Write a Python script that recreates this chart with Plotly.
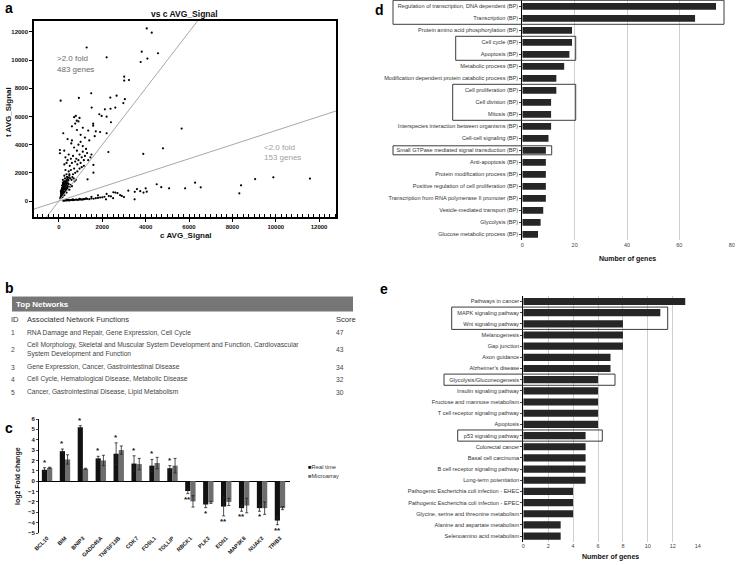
import plotly.graph_objects as go

W, H = 736, 565
FONT = "Arial, Liberation Sans, sans-serif"


def px(x):
    # pixel column -> paper fraction
    return x / W


def py(y):
    # pixel row -> paper fraction
    return 1 - y / H


# ---- panel a: scatter of c vs t signal ----
c_signal = [4050, 4280, 1280, 2200, 3820, 4080, 4570, 3770, 3010, 3010, 3230, 1490, 2660, 2370, 80, 920,
            3040, 2970, 1510, 2120, 2380, 2600, 1860, 1970, 2200, 2400, 700, 780, 820, 900, 950, 1580,
            1580, 5660, 200, 830, 2200, 1700, 1900, 1100, 1350, 600, 750, 1000, 1200, 1400, 1650, 45,
            45, 245, 570, 830, 2280, 3890, 4800, 1590, 1590, 1320,
            300, 350, 400, 450, 500, 550, 600, 650, 700, 750, 800, 850, 900, 950, 1000, 1050, 1100, 1150,
            1200, 1250, 1300, 700, 900, 1000, 1100, 600, 400, 300, 250, 350, 450, 550, 650, 750, 850, 950,
            1050, 1150, 1350, 1450, 1500, 250, 180, 220, 280, 320, 380, 420, 480, 520, 580, 620, 680, 720,
            780, 150, 200, 250, 300, 350, 400, 450, 500, 550, 600, 120, 170, 230, 280, 330, 380, 430, 480,
            100, 150, 200, 250, 300, 350, 100, 150, 200, 250, 80, 130, 180, 60, 110, 160, 90, 140, 190, 240,
            100, 120, 140, 160, 180, 200, 220, 240, 260, 280, 300, 320, 340, 360, 380, 400, 420, 440, 460, 480,
            110, 130, 150, 170, 190, 210, 230, 250, 270, 290, 310, 330, 350, 370, 390,
            200, 300, 400, 500, 600, 700, 800, 900, 1000, 1100, 1200, 1300, 1400, 1500, 1600, 1700, 1800,
            1900, 2000, 2100, 2170, 2300, 2400, 2510, 2600, 2700, 2820, 2900, 3000, 3200, 3490, 3500, 3600,
            3750, 3900, 4000, 4050, 4510, 4720, 5080, 5820, 6280, 6540, 8320, 8400, 9050, 9890, 11580,
            1800, 1500, 2200, 2500, 350, 450, 650, 950, 1250,
            250, 350, 450, 550, 650, 750, 850, 950, 1050, 1150]
t_signal = [12250, 11950, 10900, 10200, 10600, 10110, 10490, 9870, 8830, 8550, 8590, 7650, 7480, 7340, 7120, 7320,
            7230, 6950, 6630, 6510, 6550, 6630, 6160, 6040, 5990, 5590, 5950, 6050, 5700, 5650, 5900, 5490,
            5350, 5140, 4810, 5040, 4810, 4950, 4900, 5200, 5000, 5300, 5500, 4700, 4500, 4300, 4600, 3620,
            3390, 3570, 4090, 3570, 3480, 3340, 3740, 2560, 2010, 1540,
            3100, 2700, 2900, 3300, 2500, 3000, 2700, 3200, 2300, 2800, 3000, 2600, 2900, 3300, 2700, 3100, 3500, 2900,
            3200, 3700, 3400, 3800, 4000, 4200, 3900, 4300, 4400, 2200, 2600, 1900, 2100, 2200, 1900, 2000, 2100, 2300,
            2400, 2500, 2900, 3100, 3300, 1800, 1500, 1300, 1600, 1400, 1700, 1500, 1800, 1600, 1500, 1700, 1600, 1400,
            1500, 1100, 1000, 1200, 1100, 1250, 1050, 1200, 1000, 1150, 1050, 800, 900, 850, 950, 800, 900, 850, 800,
            600, 650, 700, 600, 650, 600, 400, 450, 500, 420, 300, 330, 380, 200, 250, 280, 700, 900, 1200, 1400,
            500, 700, 900, 1100, 1300, 600, 800, 1000, 1200, 1400, 900, 1100, 1300, 1500, 1700, 1000, 1250, 1450, 1650, 1900,
            350, 550, 750, 950, 1150, 450, 650, 850, 1050, 1250, 750, 950, 1150, 1350, 1550,
            20, 40, 60, 50, 80, 70, 100, 90, 120, 110, 140, 150, 130, 180, 160, 200, 220,
            250, 260, 300, 120, 350, 330, 620, 600, 560, 420, 360, 280, 730, 120, 650, 850,
            700, 600, 900, 660, 1190, 980, 900, 900, 1300, 970, 545, 1115, 1560, 1680, 1590,
            400, 300, 500, 200, 60, 80, 110, 150, 180,
            30, 50, 40, 70, 60, 90, 80, 110, 100, 130]
fold_ratios = [2.0, 0.5]

# ---- panel b: top networks table ----
net_ids = ["1", "2", "3", "4", "5"]
net_functions = [
    "RNA Damage and Repair, Gene Expression, Cell Cycle",
    "Cell Morphology, Skeletal and Muscular System Development and Function, Cardiovascular<br>System Development and Function",
    "Gene Expression, Cancer, Gastrointestinal Disease",
    "Cell Cycle, Hematological Disease, Metabolic Disease",
    "Cancer, Gastrointestinal Disease, Lipid Metabolism",
]
net_scores = [47, 43, 34, 32, 30]

# ---- panel c: real time vs microarray ----
genes = ["BCL10", "BIM", "BNIP3", "GADD45A", "TNFSF13B", "CDK7", "FOSL1", "TOLLIP",
         "RBCK1", "PLK2", "EDN1", "MAP3K8", "NUAK2", "TRIB3"]
realtime = [1.1, 2.9, 5.2, 2.2, 2.65, 1.7, 1.5, 1.25, -0.95, -2.25, -2.45, -2.6, -2.6, -3.8]
realtime_err = [0.2, 0.2, 0.15, 0.2, 1.05, 0.75, 0.6, 0.25, 0.25, 0.3, 0.9, 0.3, 0.3, 0.4]
microarray = [1.3, 2.1, 1.2, 2.0, 3.0, 1.65, 1.75, 1.5, -1.95, -2.05, -2.0, -2.35, -2.6, -2.6]
microarray_err = [0.05, 0.45, 0.05, 0.5, 0.4, 0.55, 0.55, 0.7, 0.55, 0.1, 0.35, 0.7, 0.6, 0.15]
stars = ["*", "*", "*", "*", "*", "*", "*", "*", "**", "*", "**", "**", "*", "**"]
series_names = ["Real time", "Microarray"]
series_colors = ["#111111", "#6e6e6e"]

# ---- panel d: GO terms ----
go_terms = [
    "Regulation of transcription, DNA dependent (BP)", "Transcription (BP)",
    "Protein amino acid phosphorylation (BP)", "Cell cycle (BP)", "Apoptosis (BP)",
    "Metabolic process (BP)", "Modification dependent protein catabolic process (BP)",
    "Cell proliferation (BP)", "Cell division (BP)", "Mitosis (BP)",
    "Interspecies interaction between organisms (BP)", "Cell-cell signaling (BP)",
    "Small GTPase mediated signal transduction (BP)", "Anti-apoptosis (BP)",
    "Protein modification process (BP)", "Positive regulation of cell proliferation (BP)",
    "Transcription from RNA polymerase II promoter (BP)", "Vesicle-mediated transport (BP)",
    "Glycolysis (BP)", "Glucose metabolic process (BP)",
]
go_counts = [74, 66, 19, 19, 18, 16, 13, 13, 11, 11, 11, 10, 9, 9, 9, 9, 9, 8, 7, 6]

# ---- panel e: KEGG pathways ----
kegg = [
    "Pathways in cancer", "MAPK signaling pathway", "Wnt signaling pathway", "Melanogenesis",
    "Gap junction", "Axon guidance", "Alzheimer's disease", "Glycolysis/Gluconeogenesis",
    "Insulin signaling pathway", "Fructose and mannose metabolism", "T cell receptor signaling pathway",
    "Apoptosis", "p53 signaling pathway", "Colorectal cancer", "Basal cell carcinoma",
    "B cell receptor signaling pathway", "Long-term potentiation",
    "Pathogenic Escherichia coli infection - EHEC", "Pathogenic Escherichia coli infection - EPEC",
    "Glycine, serine and threonine metabolism", "Alanine and aspartate metabolism",
    "Selenoamino acid metabolism",
]
kegg_counts = [13, 11, 8, 8, 8, 7, 7, 6, 6, 6, 6, 6, 5, 5, 5, 5, 5, 4, 4, 4, 3, 3]

fig = go.Figure()

# panel a
fig.add_trace(go.Scatter(x=c_signal, y=t_signal, mode="markers", xaxis="x", yaxis="y",
                         marker=dict(size=2.2, color="black"), showlegend=False))
for r in fold_ratios:
    fig.add_trace(go.Scatter(x=[-2000, 14000], y=[-2000 * r, 14000 * r], mode="lines",
                             xaxis="x", yaxis="y", line=dict(color="#a8a8a8", width=1),
                             showlegend=False, hoverinfo="skip"))

# panel c
for name, vals, errs, col in zip(series_names, [realtime, microarray], [realtime_err, microarray_err],
                                 series_colors):
    fig.add_trace(go.Bar(x=genes, y=vals, name=name, xaxis="x2", yaxis="y2", showlegend=False,
                         marker=dict(color=col),
                         error_y=dict(type="data", array=errs, color="#222", thickness=0.8, width=1.5)))

# panel d
fig.add_trace(go.Bar(x=go_counts, y=go_terms, orientation="h", xaxis="x3", yaxis="y3", width=0.56,
                     marker=dict(color="#262626"), showlegend=False))
# panel e
fig.add_trace(go.Bar(x=kegg_counts, y=kegg, orientation="h", xaxis="x4", yaxis="y4", width=0.64,
                     marker=dict(color="#262626"), showlegend=False))

fig.update_layout(
    width=W, height=H, template="none",
    margin=dict(l=0, r=0, t=0, b=0),
    paper_bgcolor="white", plot_bgcolor="white",
    font=dict(family=FONT, color="#222"),
    barmode="group", bargap=0.42, bargroupgap=0,
    showlegend=False,
    xaxis=dict(domain=[px(34), px(336)], anchor="y", range=[-1150, 12780],
               tickvals=[0, 2000, 4000, 6000, 8000, 10000, 12000], tickformat="d",
               tickfont=dict(family=FONT, size=6, color="#111", weight="bold"),
               showline=True, linecolor="black", linewidth=1.5, mirror=True,
               ticks="outside", ticklen=3, tickcolor="black",
               minor=dict(dtick=250, ticks="inside", ticklen=3, tickcolor="black"),
               showgrid=False, zeroline=False, automargin=False),
    yaxis=dict(domain=[py(217), py(21)], anchor="x", range=[-1136, 12780],
               tickvals=[0, 2000, 4000, 6000, 8000, 10000, 12000], tickformat="d",
               tickfont=dict(family=FONT, size=6, color="#111", weight="bold"),
               showline=True, linecolor="black", linewidth=1.5, mirror=True,
               ticks="outside", ticklen=3, tickcolor="black",
               showgrid=False, zeroline=False, automargin=False),
    xaxis2=dict(domain=[px(39), px(290)], anchor="y2", range=[-0.45, 13.56],
                tickangle=-45, tickfont=dict(family=FONT, size=5.5, color="#111", weight="bold"),
                showline=False, ticks="", showgrid=False, zeroline=False, automargin=False),
    yaxis2=dict(domain=[py(533), py(419)], anchor="x2", range=[-5, 6], dtick=1,
                tickfont=dict(family=FONT, size=6, color="#111", weight="bold"),
                showline=True, linecolor="black", linewidth=1, ticks="outside", ticklen=2,
                showgrid=False, zeroline=True, zerolinecolor="black", zerolinewidth=1,
                automargin=False),
    xaxis3=dict(domain=[px(522.3), px(731.7)], anchor="y3", range=[0, 80], dtick=20,
                tickfont=dict(family=FONT, size=5.5, color="#444"),
                showgrid=True, gridcolor="#cfcfcf", gridwidth=1, showline=False,
                zeroline=False, ticks="", automargin=False),
    yaxis3=dict(domain=[py(240.3), py(0.3)], anchor="x3", autorange="reversed",
                tickfont=dict(family=FONT, size=5.6, color="#333"),
                showline=True, linecolor="black", linewidth=1, ticks="outside", ticklen=2,
                showgrid=False, automargin=False),
    xaxis4=dict(domain=[px(523.3), px(697.7)], anchor="y4", range=[0, 14], dtick=2,
                tickfont=dict(family=FONT, size=5.5, color="#444"),
                showgrid=True, gridcolor="#cfcfcf", gridwidth=1, showline=False,
                zeroline=False, ticks="", automargin=False),
    yaxis4=dict(domain=[py(541.7), py(295.9)], anchor="x4", autorange="reversed",
                tickfont=dict(family=FONT, size=5.6, color="#333"),
                showline=True, linecolor="black", linewidth=1, ticks="outside", ticklen=2,
                showgrid=False, automargin=False),
)

ann = []
shapes = []


def text(x, y, s, size=7, color="#222", bold=False, xanchor="left", angle=0):
    ann.append(dict(x=px(x), y=py(y), xref="paper", yref="paper", text=s, showarrow=False,
                    xanchor=xanchor, yanchor="middle", textangle=angle, align="left",
                    font=dict(family=FONT, size=size, color=color, weight="bold" if bold else "normal")))


# panel letters
for lab, x, y in [("a", 3, 8), ("b", 3, 288), ("c", 3, 428), ("d", 373, 10), ("e", 378, 289)]:
    text(x, y, lab, size=14, color="black", bold=True)

# panel a texts
text(185, 14, "vs c AVG_Signal", size=8.5, color="#111", bold=True, xanchor="center")
text(186, 236, "c AVG_Signal", size=8, color="#111", bold=True, xanchor="center")
text(8, 112, "t AVG_Signal", size=8, color="#111", bold=True, xanchor="center", angle=-90)
text(55, 59, ">2.0 fold", size=8, color="#6a6a6a")
text(55, 69, "483 genes", size=8, color="#6a6a6a")
text(262, 147, "<2.0 fold", size=8, color="#a0a0a0")
text(262, 157, "153 genes", size=8, color="#a0a0a0")

# panel b table
shapes.append(dict(type="rect", xref="paper", yref="paper", x0=px(12), x1=px(353), y0=py(311.5), y1=py(297),
                   fillcolor="#767676", line=dict(width=0), layer="below"))
shapes.append(dict(type="line", xref="paper", yref="paper", x0=px(12), x1=px(353), y0=py(296.5), y1=py(296.5),
                   line=dict(color="#bdbdbd", width=1)))
text(14, 304.5, "Top Networks", size=8, color="white", bold=True)
text(9, 319, "ID", size=7.6, color="#333")
text(25, 319, "Associated Network Functions", size=7.6, color="#333")
text(334, 319, "Score", size=7.6, color="#333")
row_y = [332.7, 349.8, 367.3, 379.3, 392]
for rid, fn, sc, ry in zip(net_ids, net_functions, net_scores, row_y):
    text(9, ry, rid, size=6.7, color="#444")
    text(25, ry, fn, size=6.7, color="#444")
    text(334, ry, str(sc), size=6.7, color="#444")

# panel c texts
text(18, 476, "log2 Fold change", size=7, color="#111", bold=True, xanchor="center", angle=-90)
for g, v, e, s in zip(genes, realtime, realtime_err, stars):
    up = v > 0
    ann.append(dict(x=g, y=v + e if up else v - e, xref="x2", yref="y2", text=s, showarrow=False,
                    xshift=-2.5, yshift=-1 if up else 1, yanchor="bottom" if up else "top",
                    font=dict(family=FONT, size=8, color="#111", weight="bold")))
# compact legend for panel c
for name, col, ly in zip(series_names, series_colors, [467, 476]):
    text(306, ly, "<span style='color:%s'>■</span>%s" % (col, name), size=5.8, color="#333")

# panel d / e axis titles
text(627, 259, "Number of genes", size=7, color="#111", bold=True, xanchor="center")
text(610.5, 556.5, "Number of genes", size=7, color="#111", bold=True, xanchor="center")


def box(x0, x1, top, pitch, i0, i1, inset=0.0):
    shapes.append(dict(type="rect", xref="paper", yref="paper", x0=px(x0), x1=px(x1),
                       y0=py(top + (i1 + 1) * pitch - inset), y1=py(top + i0 * pitch + inset),
                       line=dict(color="#3c3c3c", width=1), fillcolor="rgba(0,0,0,0)"))


# highlight boxes, panel d
box(393, 724, 0.3, 12, 0, 1)
box(455.7, 575.7, 0.3, 12, 3, 4)
box(452.7, 575.7, 0.3, 12, 7, 9)
box(393, 551.7, 0.3, 12, 12, 12, inset=1.5)
# panel e
box(451.7, 667.7, 295.9, 245.8 / 22, 1, 2)
box(444, 615, 295.9, 245.8 / 22, 7, 7)
box(457.7, 602.3, 295.9, 245.8 / 22, 12, 12)

fig.update_layout(annotations=ann, shapes=shapes)

# the page body has a default 8px margin; drop it so the figure fills the window
fig.write_html("out.html", config={"displayModeBar": False},
               post_script="document.body.style.margin='0';")
